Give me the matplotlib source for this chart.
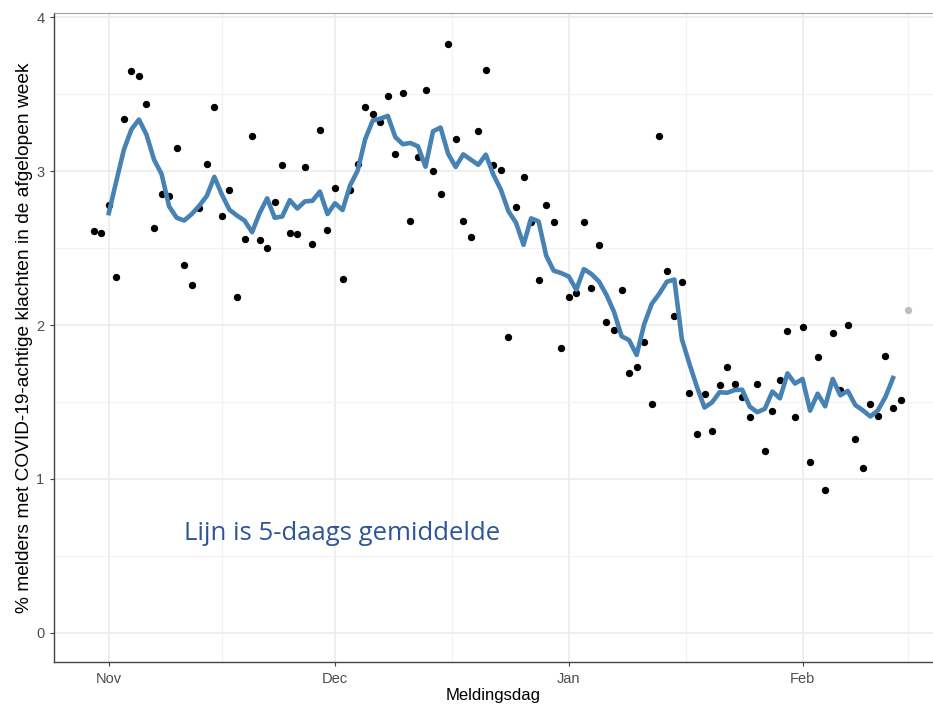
import matplotlib
matplotlib.use('Agg')
import matplotlib.pyplot as plt
import matplotlib.dates as mdates
import numpy as np
import pandas as pd

plt.rcParams['font.family'] = ['Liberation Sans', 'DejaVu Sans']

# dagelijkse percentages, 30 okt t/m 15 feb
start = '2020-10-30'
waarden = [
    2.61, 2.60, 2.78, 2.31, 3.34, 3.65, 3.62, 3.44, 2.63, 2.85,
    2.84, 3.15, 2.39, 2.26, 2.76, 3.05, 3.42, 2.71, 2.88, 2.18,
    2.56, 3.23, 2.55, 2.50, 2.80, 3.04, 2.60, 2.59, 3.03, 2.53,
    3.27, 2.62, 2.89, 2.30, 2.88, 3.05, 3.42, 3.37, 3.32, 3.49,
    3.11, 3.51, 2.68, 3.09, 3.53, 3.00, 2.85, 3.83, 3.21, 2.68,
    2.57, 3.26, 3.66, 3.04, 3.01, 1.92, 2.77, 2.96, 2.67, 2.29,
    2.78, 2.67, 1.85, 2.18, 2.21, 2.67, 2.24, 2.52, 2.02, 1.97,
    2.23, 1.69, 1.73, 1.89, 1.49, 3.23, 2.35, 2.06, 2.28, 1.56,
    1.29, 1.55, 1.31, 1.61, 1.73, 1.62, 1.53, 1.40, 1.62, 1.18,
    1.44, 1.64, 1.96, 1.40, 1.99, 1.11, 1.79, 0.93, 1.95, 1.58,
    2.00, 1.26, 1.07, 1.49, 1.41, 1.80, 1.46, 1.51, 2.10,
]
# laatste dag is nog onvolledig (grijs)
onvolledig = 1

datums = pd.date_range(start, periods=len(waarden), freq='D')
df = pd.DataFrame({'datum': datums, 'pct': waarden})
df['gem5'] = df['pct'].rolling(5, center=True).mean()

fig = plt.figure(figsize=(9.33, 7.08), dpi=100)
ax = fig.add_axes([0.058, 0.065, 0.942, 0.916])

vol = df.iloc[:len(df) - onvolledig]
rest = df.iloc[len(df) - onvolledig:]
ax.scatter(vol['datum'], vol['pct'], s=28, color='black', zorder=3, linewidths=0)
ax.scatter(rest['datum'], rest['pct'], s=28, color='#BEBEBE', zorder=3, linewidths=0)
ax.plot(df['datum'], df['gem5'], color='#4682B4', linewidth=3.3, zorder=4,
        solid_joinstyle='round')

maanden = pd.to_datetime(['2020-11-01', '2020-12-01', '2021-01-01', '2021-02-01', '2021-03-01'])
maand_labels = ['Nov', 'Dec', 'Jan', 'Feb']
mn = mdates.date2num(maanden)
ax.set_xticks(mn[:4])
ax.set_xticklabels(maand_labels)
ax.set_xticks((mn[:-1] + mn[1:]) / 2, minor=True)
ax.set_yticks([0, 1, 2, 3, 4])
ax.set_yticks([0.5, 1.5, 2.5, 3.5], minor=True)

# limieten pas na de ticks zetten, anders schuift de as op
ax.set_ylim(-0.19, 4.026)
x0 = pd.Timestamp('2020-11-01')
ax.set_xlim(mdates.date2num(x0 - pd.Timedelta(days=7.25)),
            mdates.date2num(x0 + pd.Timedelta(days=109.3)))

ax.grid(which='major', color='#EBEBEB', linewidth=1.2)
ax.grid(which='minor', color='#F2F2F2', linewidth=0.8)
ax.set_axisbelow(True)

for s in ['left', 'bottom']:
    ax.spines[s].set_color('#444444')
    ax.spines[s].set_linewidth(1.0)
ax.spines['top'].set_color('#A0A0A0')
ax.spines['right'].set_visible(False)

ax.tick_params(which='major', length=3, color='#444444', labelsize=10.5,
               labelcolor='#4D4D4D', pad=4)
ax.tick_params(which='minor', length=0)

ax.set_xlabel('Meldingsdag', fontsize=12, labelpad=2)
ax.set_ylabel('% melders met COVID-19-achtige klachten in de afgelopen week',
              fontsize=13.8, labelpad=2)

ax.text(0.148, 0.188, 'Lijn is 5-daags gemiddelde', transform=ax.transAxes,
        fontsize=18.5, color='#2F5597', family=['Open Sans', 'DejaVu Sans'])

fig.savefig('out.png', dpi=100)
